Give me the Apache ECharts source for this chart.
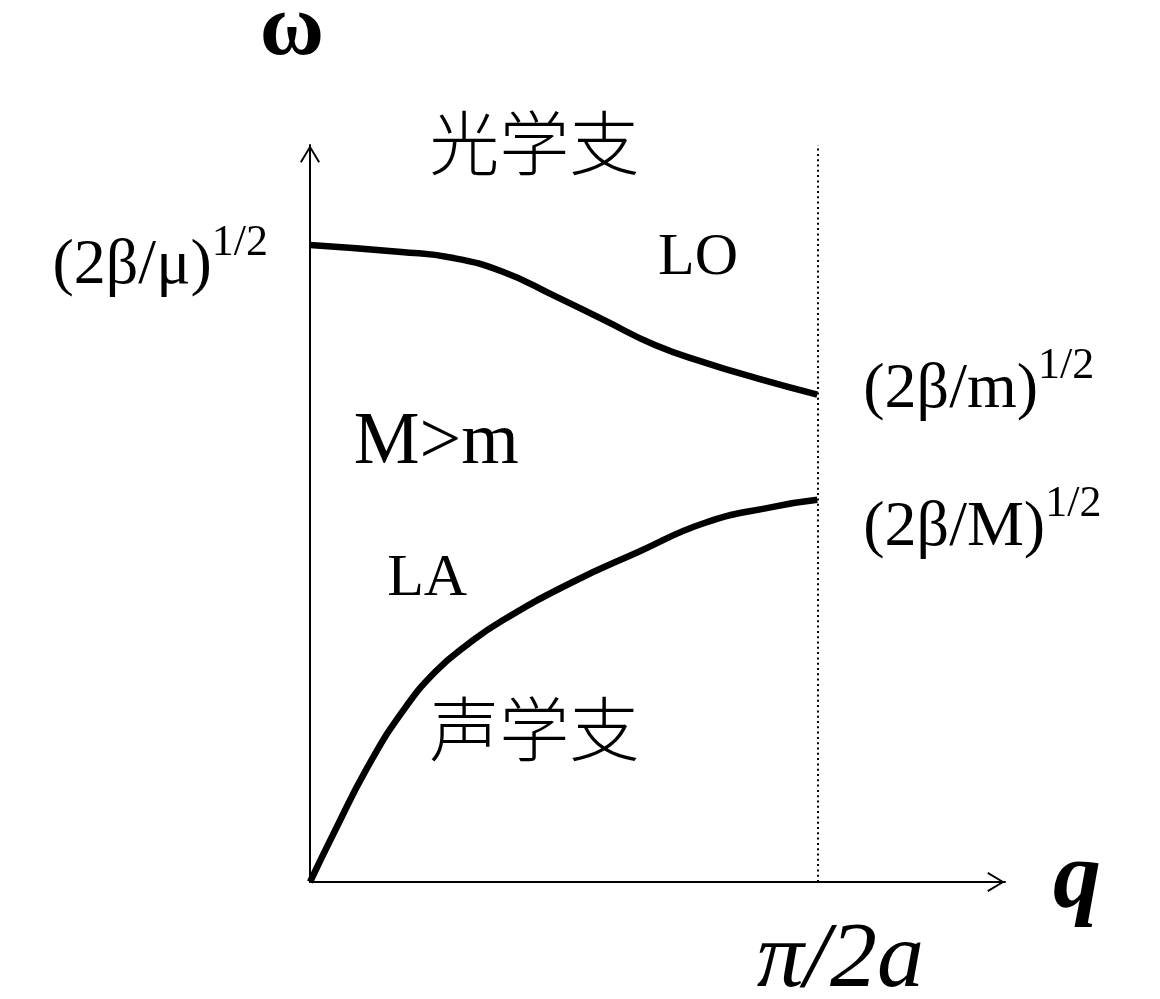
<!DOCTYPE html>
<html><head><meta charset="utf-8">
<script src="https://cdn.jsdelivr.net/npm/echarts@6/dist/echarts.min.js"></script>
<style>html,body{margin:0;padding:0;background:#fff}#c{width:1160px;height:999px}</style>
</head><body><div id="c"></div>
<script>
// q in units of π/2a, ω in units of (2β/μ)^{1/2}
const qLO = [0, 0.18, 0.28, 0.38, 0.48, 0.58, 0.68, 0.78, 0.88, 1.0];
const wLO = [1.0, 0.989, 0.980, 0.958, 0.921, 0.882, 0.843, 0.815, 0.791, 0.765];
const qLA = [0, 0.047, 0.114, 0.18, 0.247, 0.314, 0.38, 0.513, 0.647, 0.779, 0.913, 1.0];
const wLA = [0, 0.077, 0.181, 0.265, 0.330, 0.375, 0.411, 0.469, 0.518, 0.564, 0.589, 0.600];

const xTickValues = [1];
const xTickLabels = ['π/2a'];
const yTickValues = [1];
const yTickBase = ['(2β/μ)'];
const yTickSup = ['1/2'];
const loEndBase = '(2β/m)', loEndSup = '1/2';
const laEndBase = '(2β/M)', laEndSup = '1/2';

const annotationTexts = ['光学支', 'LO', 'M>m', 'LA', '声学支'];
const annotationQ = [0.442, 0.765, 0.249, 0.231, 0.442];
const annotationW = [1.160, 0.979, 0.688, 0.475, 0.240];

const SERIF = 'Liberation Serif';
const CJK = 'Noto Sans CJK SC';
const annSizes = { '光学支': 70, 'LO': 60, 'M>m': 74, 'LA': 60, '声学支': 70 };
const richSup = {
  b: { fontFamily: SERIF, fontSize: 64, color: '#000', lineHeight: 90 },
  s: { fontFamily: SERIF, fontSize: 44, color: '#000', verticalAlign: 'top', lineHeight: 44 }
};
const arrowPath = 'path://M10,0 L20,16.5 L18.3,17.5 L10,3.5 L1.7,17.5 L0,16.5 Z';

const isCJK = t => /[\u4e00-\u9fff]/.test(t);
const annData = annotationTexts.map((t, i) => ({
  name: t,
  value: [annotationQ[i], annotationW[i]],
  label: {
    show: true, position: 'inside', color: '#000', textBorderWidth: 0,
    fontFamily: isCJK(t) ? CJK : SERIF,
    fontWeight: isCJK(t) ? 300 : 'normal',
    fontSize: annSizes[t]
  }
}));

const chart = echarts.init(document.getElementById('c'), null, { renderer: 'canvas' });
chart.setOption({
  animation: false,
  backgroundColor: '#fff',
  grid: { left: 310, right: 155, top: 145, bottom: 117, containLabel: false, outerBoundsMode: 'none' },
  xAxis: {
    type: 'value', min: 0, max: 1.37,
    name: 'q', nameLocation: 'end', nameGap: 48,
    nameTextStyle: { fontFamily: SERIF, fontSize: 96, fontWeight: 'bold', fontStyle: 'italic', color: '#000', verticalAlign: 'middle', lineHeight: 110, padding: [0, 0, 14, 0] },
    axisLine: { show: true, lineStyle: { color: '#000', width: 2 }, symbol: ['none', arrowPath], symbolSize: [20, 18], symbolOffset: [0, -9] },
    axisTick: { show: false },
    splitLine: { show: false },
    axisLabel: {
      customValues: xTickValues, margin: 32,
      formatter: v => xTickLabels[xTickValues.indexOf(v)] || '',
      fontFamily: SERIF, fontSize: 94, fontStyle: 'italic', color: '#000', padding: [0, 0, 0, 46]
    }
  },
  yAxis: {
    type: 'value', min: 0, max: 1.157,
    name: 'ω', nameLocation: 'end', nameGap: 70,
    nameTextStyle: { fontFamily: SERIF, fontSize: 88, fontWeight: 'bold', color: '#000', padding: [0, 36, 0, 0] },
    axisLine: { show: true, lineStyle: { color: '#000', width: 2 }, symbol: ['none', arrowPath], symbolSize: [20, 18], symbolOffset: [0, -9] },
    axisTick: { show: false },
    splitLine: { show: false },
    axisLabel: {
      customValues: yTickValues, margin: 42,
      formatter: v => { const i = yTickValues.indexOf(v); return i < 0 ? '' : '{b|' + yTickBase[i] + '}{s|' + yTickSup[i] + '}'; },
      rich: richSup, padding: [42, 0, 0, 0]
    }
  },
  series: [
    {
      name: 'LO', type: 'line', data: qLO.map((q, i) => [q, wLO[i]]),
      smooth: 0.5, showSymbol: false, symbol: 'none',
      lineStyle: { color: '#000', width: 6.5 },
      endLabel: { show: true, formatter: () => '{b|' + loEndBase + '}{s|' + loEndSup + '}', rich: richSup, distance: 46, offset: [0, -5] },
      markLine: {
        silent: true, symbol: 'none', label: { show: false },
        lineStyle: { color: '#000', width: 2, type: [2, 3.3] },
        data: [{ xAxis: 1 }]
      }
    },
    {
      name: 'LA', type: 'line', data: qLA.map((q, i) => [q, wLA[i]]),
      smooth: 0.5, showSymbol: false, symbol: 'none',
      lineStyle: { color: '#000', width: 6.5 },
      endLabel: { show: true, formatter: () => '{b|' + laEndBase + '}{s|' + laEndSup + '}', rich: richSup, distance: 46, offset: [0, 28] }
    },
    {
      name: 'annotations', type: 'scatter', symbolSize: 0, clip: false,
      itemStyle: { opacity: 1 },
      data: annData,
      label: { show: true, position: 'inside', formatter: p => p.name, color: '#000' }
    }
  ]
});
</script></body></html>
